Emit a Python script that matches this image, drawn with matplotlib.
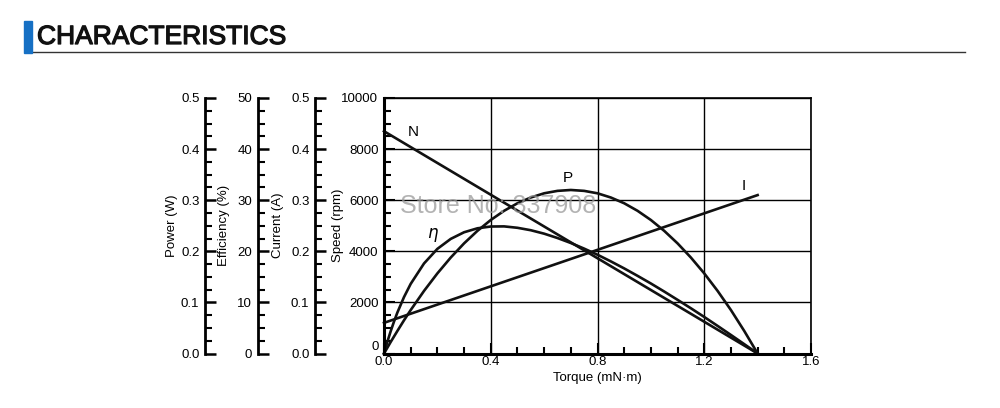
import numpy as np
import matplotlib
matplotlib.use("Agg")
import matplotlib.pyplot as plt
import matplotlib.patheffects as pe
from matplotlib.ticker import MultipleLocator, FormatStrFormatter

plt.rcParams["font.family"] = ["Liberation Sans", "DejaVu Sans"]

# torque (mN·m) sample points
torque = [0.0, 0.0125, 0.025, 0.0375, 0.05, 0.075, 0.1, 0.15, 0.2, 0.25, 0.3, 0.35, 0.4, 0.45, 0.5, 0.55,
          0.6, 0.65, 0.7, 0.75, 0.8, 0.85, 0.9, 0.95, 1.0, 1.05, 1.1, 1.15, 1.2, 1.25, 1.3, 1.35, 1.4]
# curves in speed-axis units (0..10000)
power_curve = [0, 225, 450, 665, 880, 1300, 1700, 2450, 3135, 3755, 4310, 4800, 5225, 5585, 5880, 6105,
               6270, 6365, 6400, 6365, 6270, 6105, 5880, 5585, 5225, 4800, 4310, 3755, 3135, 2450, 1700, 880, 0]
eff_curve = [0, 455, 870, 1250, 1600, 2210, 2725, 3525, 4095, 4485, 4745, 4900, 4970, 4975, 4920, 4825,
             4690, 4520, 4325, 4105, 3865, 3605, 3330, 3040, 2740, 2425, 2100, 1770, 1430, 1080, 725, 365, 0]
speed_torque = [0.0, 1.4]
speed_vals = [8700, 0]
current_torque = [0.0, 1.4]
current_vals = [1200, 6200]

# label, axis top, major step, format, spine x, label x (figure fractions)
left_axes = [
    ("Power (W)", 0.5, 0.1, "%.1f", 0.205, 0.172),
    ("Efficiency (%)", 50, 10, "%d", 0.2575, 0.2245),
    ("Current (A)", 0.5, 0.1, "%.1f", 0.315, 0.2785),
]

fig = plt.figure(figsize=(10, 4.08), dpi=100)

# header
fig.patches.append(plt.Rectangle((0.024, 1 - 52.5 / 408), 0.008, 32 / 408, transform=fig.transFigure,
                                 color="#1670c4", zorder=3))
fig.add_artist(plt.Line2D([0.032, 0.965], [1 - 52 / 408, 1 - 52 / 408], transform=fig.transFigure,
                          color="#333333", lw=1.0))
fig.text(0.037, 1 - 37 / 408, "CHARACTERISTICS", fontsize=19, va="center", ha="left", color="#111111",
         path_effects=[pe.withStroke(linewidth=0.9, foreground="#111111")])

bot = (408 - 353.5) / 408
hgt = 255.5 / 408
ymid = bot + hgt / 2

for label, top, step, fmt, xpos, lx in left_axes:
    a = fig.add_axes([xpos, bot, 0.0001, hgt])
    for s in ["top", "right", "bottom"]:
        a.spines[s].set_visible(False)
    a.spines["left"].set_linewidth(2.0)
    a.set_ylim(0, top)
    a.set_xticks([])
    a.yaxis.set_major_locator(MultipleLocator(step))
    a.yaxis.set_minor_locator(MultipleLocator(step / 4))
    a.yaxis.set_major_formatter(FormatStrFormatter(fmt))
    a.tick_params(axis="y", which="major", direction="in", length=8, width=1.8, labelsize=9.5, pad=4)
    a.tick_params(axis="y", which="minor", direction="in", length=5, width=1.5)
    a.set_ylabel(label, fontsize=9.5, va="center")
    a.yaxis.set_label_coords(lx, ymid, transform=fig.transFigure)
    a.patch.set_visible(False)

ax = fig.add_axes([0.384, bot, 0.427, hgt])
ax.set_xlim(0, 1.6)
ax.set_ylim(0, 10000)
ax.xaxis.set_major_locator(MultipleLocator(0.4))
ax.xaxis.set_minor_locator(MultipleLocator(0.1))
ax.yaxis.set_major_locator(MultipleLocator(2000))
ax.yaxis.set_minor_locator(MultipleLocator(500))
ax.xaxis.set_major_formatter(FormatStrFormatter("%.1f"))
ax.grid(True, which="major", color="black", lw=1.0)
ax.tick_params(which="major", direction="in", length=8, width=1.5, labelsize=9.5)
ax.tick_params(which="minor", direction="in", length=5, width=1.5)
ax.tick_params(axis="y", pad=4)
ax.tick_params(axis="x", pad=2)
for s in ["left", "bottom"]:
    ax.spines[s].set_linewidth(2.2)
for s in ["top", "right"]:
    ax.spines[s].set_linewidth(1.2)
ax.set_ylabel("Speed (rpm)", fontsize=9.5, va="center")
ax.yaxis.set_label_coords(0.338, ymid, transform=fig.transFigure)
ax.set_xlabel("Torque (mN·m)", fontsize=9.5, labelpad=3)

ax.plot(speed_torque, speed_vals, color="#111111", lw=1.9, clip_on=False)
ax.plot(current_torque, current_vals, color="#111111", lw=1.9, clip_on=False)
ax.plot(torque, power_curve, color="#111111", lw=1.9, clip_on=False)
ax.plot(torque, eff_curve, color="#111111", lw=1.9, clip_on=False)

ax.text(0.09, 8650, "N", fontsize=11, va="center")
ax.text(0.67, 6850, "P", fontsize=11, va="center")
ax.text(1.34, 6550, "I", fontsize=11, va="center")
ax.text(0.16, 4650, r"$\eta$", fontsize=12, va="center")

fig.text(0.400, 1 - 206 / 408, "Store No: 337908", fontsize=18, color="#9a9a9a", alpha=0.75,
         va="center", ha="left")

# lift the "0" speed label above the "0.0" torque label, as in the original
fig.canvas.draw()
for t in ax.yaxis.get_major_ticks():
    if abs(t.get_loc()) < 1e-9:
        t.label1.set_verticalalignment("bottom")

fig.savefig("out.png", dpi=100)
